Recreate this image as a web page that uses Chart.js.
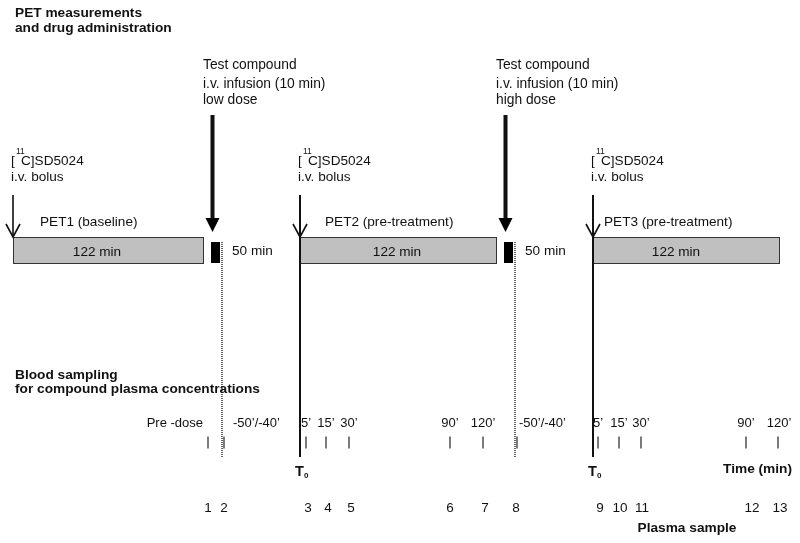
<!DOCTYPE html>
<html>
<head>
<meta charset="utf-8">
<script src="https://cdn.jsdelivr.net/npm/chart.js@4.4.0/dist/chart.umd.min.js"></script>
<style>
    html, body { margin: 0; padding: 0; background: #fff; }
    #wrap { width: 800px; height: 543px; }
</style>
</head>
<body>
<div id="wrap"><canvas id="esquema" width="800" height="543"></canvas></div>
<script>
// ─────────────────────────────────────────────────────────────────────────────
// DATOS (eje x = eje esquemático del estudio, no a escala)
// ─────────────────────────────────────────────────────────────────────────────
const petLabels     = ['PET1 (baseline)', 'PET2 (pre-treatment)', 'PET3 (pre-treatment)'];
const petStart      = [13, 300, 593];
const petEnd        = [203, 496, 779];
const petDuration   = ['122 min', '122 min', '122 min'];
const petDurationAt = [97, 397, 676];
const petLabelAt    = [40, 325, 604];
const tracerName    = ['C]SD5024', 'C]SD5024', 'C]SD5024'];

const doseLabels    = ['low dose', 'high dose'];
const infusionStart = [211, 504];
const infusionEnd   = [220, 513];
const washoutAt     = [222, 515];
const washoutLabel  = ['50 min', '50 min'];

const sampleNo     = ['1', '2', '3', '4', '5', '6', '7', '8', '9', '10', '11', '12', '13'];
const sampleAt     = [208, 224, 306, 326, 349, 450, 483, 517, 598, 619, 641, 746, 778];
const sampleNoAt   = [208, 224, 308, 328, 351, 450, 485, 516, 600, 620, 642, 752, 780];
const sampleTime   = ['Pre -dose', '-50’/-40’', '5’', '15’', '30’', '90’', '120’',
                      '-50’/-40’', '5’', '15’', '30’', '90’', '120’'];
const sampleTimeAt = [203, 233, 306, 326, 349, 450, 483, 519, 598, 619, 641, 746, 779];
const sampleAlign  = ['right', 'left', 'center', 'center', 'center', 'center', 'center',
                      'left', 'center', 'center', 'center', 'center', 'center'];

// filas del esquema (eje y invertido)
const ROW = {
    head1: 13, head2: 28,
    test1: 65, test2: 84, test3: 100,
    tracer: 161, bolus: 177,
    arrowTop: 195, thickTop: 115, thickTip: 232,
    petLabel: 222, boxTop: 237, boxBot: 263, boxText: 251,
    blackTop: 242,
    blood1: 375, blood2: 389,
    time: 423, tickTop: 437, tickBot: 448, lineBot: 457, dotBot: 458,
    t0: 472, sample: 508, plasma: 528
};

const FONT   = 'Arial, "Liberation Sans", sans-serif';
const INK    = '#111';
const BOLD   = 13.7;
const REG    = 13.6;

// ─────────────────────────────────────────────────────────────────────────────
// DATASETS
// ─────────────────────────────────────────────────────────────────────────────
function segmento(x, y0, y1, extra) {
    return Object.assign({
        type: 'line',
        data: [{ x: x, y: y0 }, { x: x, y: y1 }],
        borderColor: INK,
        borderWidth: 1,
        pointRadius: 0,
        fill: false
    }, extra || {});
}

const datasets = [];

// línea T0 (PET2, PET3) y flecha del bolo PET1
datasets.push(segmento(petStart[0], ROW.arrowTop, ROW.boxTop, { borderWidth: 1.6 }));
datasets.push(segmento(petStart[1], ROW.arrowTop, ROW.lineBot, { borderWidth: 2 }));
datasets.push(segmento(petStart[2], ROW.arrowTop, ROW.lineBot, { borderWidth: 2 }));

// líneas punteadas tras la infusión
washoutAt.forEach(function (x) {
    datasets.push(segmento(x, ROW.blackTop, ROW.dotBot, { borderWidth: 1.4, borderDash: [1, 1], borderColor: '#222' }));
});

// flechas gruesas de infusión (astil)
infusionStart.forEach(function (x) {
    datasets.push(segmento(x + 1.5, ROW.thickTop, ROW.thickTip - 10, { borderWidth: 4 }));
});

// marcas de muestreo
datasets.push({
    type: 'scatter',
    data: sampleAt.map(function (x) { return { x: x, y: (ROW.tickTop + ROW.tickBot) / 2 }; }),
    pointStyle: 'line',
    rotation: 90,
    radius: 6,
    borderWidth: 1.2,
    borderColor: '#222'
});

// ─────────────────────────────────────────────────────────────────────────────
// PLUGIN: cajas, flechas y textos
// ─────────────────────────────────────────────────────────────────────────────
const pluginEsquema = {
    id: 'esquema',
    beforeDatasetsDraw: function (chart) {
        const ctx = chart.ctx, sx = chart.scales.x, sy = chart.scales.y;
        ctx.save();
        // cajas PET
        petStart.forEach(function (x0, i) {
            const px0 = sx.getPixelForValue(x0), px1 = sx.getPixelForValue(petEnd[i]);
            const py0 = sy.getPixelForValue(ROW.boxTop), py1 = sy.getPixelForValue(ROW.boxBot);
            ctx.fillStyle = '#c0c0c0';
            ctx.fillRect(px0, py0, px1 - px0, py1 - py0);
            ctx.strokeStyle = '#333';
            ctx.lineWidth = 1;
            ctx.strokeRect(px0 + 0.5, py0 + 0.5, px1 - px0, py1 - py0);
        });
        // infusión (rectángulo negro)
        infusionStart.forEach(function (x0, i) {
            const px0 = sx.getPixelForValue(x0), px1 = sx.getPixelForValue(infusionEnd[i]);
            const py0 = sy.getPixelForValue(ROW.blackTop), py1 = sy.getPixelForValue(ROW.boxBot);
            ctx.fillStyle = '#000';
            ctx.fillRect(px0, py0, px1 - px0, py1 - py0);
        });
        ctx.restore();
    },
    afterDatasetsDraw: function (chart) {
        const ctx = chart.ctx, sx = chart.scales.x, sy = chart.scales.y;
        const X = function (v) { return sx.getPixelForValue(v); };
        const Y = function (v) { return sy.getPixelForValue(v); };

        function texto(str, x, y, size, bold, align) {
            ctx.font = (bold ? 'bold ' : '') + size + 'px ' + FONT;
            ctx.textAlign = align || 'left';
            ctx.textBaseline = 'middle';
            ctx.fillStyle = INK;
            ctx.fillText(str, X(x), Y(y));
        }

        ctx.save();

        // puntas abiertas (bolo)
        ctx.strokeStyle = INK;
        ctx.lineWidth = 1.6;
        petStart.forEach(function (x) {
            const px = X(x), py = Y(ROW.boxTop);
            ctx.beginPath();
            ctx.moveTo(px - 7, py - 13);
            ctx.lineTo(px, py);
            ctx.lineTo(px + 7, py - 13);
            ctx.stroke();
        });

        // puntas macizas (infusión)
        ctx.fillStyle = '#000';
        infusionStart.forEach(function (x) {
            const px = X(x + 1.5), py = Y(ROW.thickTip);
            ctx.beginPath();
            ctx.moveTo(px - 7, py - 14);
            ctx.lineTo(px + 7, py - 14);
            ctx.lineTo(px, py);
            ctx.closePath();
            ctx.fill();
        });

        // títulos
        texto('PET measurements', 15, ROW.head1, BOLD, true);
        texto('and drug administration', 15, ROW.head2, BOLD, true);
        texto('Blood sampling', 15, ROW.blood1, BOLD, true);
        texto('for compound plasma concentrations', 15, ROW.blood2, BOLD, true);

        // compuesto de prueba
        infusionStart.forEach(function (x, i) {
            const lx = x - 8;
            texto('Test compound', lx, ROW.test1, 13.8);
            texto('i.v. infusion (10 min)', lx, ROW.test2, 13.8);
            texto(doseLabels[i], lx, ROW.test3, 13.8);
            texto(washoutLabel[i], washoutAt[i] + 10, ROW.boxText, REG);
        });

        // trazador y cajas PET
        petStart.forEach(function (x, i) {
            const lx = x - 2;
            texto('[', lx, ROW.tracer, REG);
            texto('11', lx + 5, ROW.tracer - 9, 8.5);
            texto(tracerName[i], lx + 10, ROW.tracer, REG);
            texto('i.v. bolus', lx, ROW.bolus, REG);
            texto(petLabels[i], petLabelAt[i], ROW.petLabel, REG);
            texto(petDuration[i], petDurationAt[i], ROW.boxText + 1, REG, false, 'center');
        });

        // T0
        [petStart[1], petStart[2]].forEach(function (x) {
            texto('T', x - 5, ROW.t0, 14.5, true);
            texto('0', x + 4, ROW.t0 + 4, 8, true);
        });

        // tiempos y números de muestra
        sampleTime.forEach(function (t, i) {
            texto(t, sampleTimeAt[i], ROW.time, 13, false, sampleAlign[i]);
            texto(sampleNo[i], sampleNoAt[i], ROW.sample, 13.5, false, 'center');
        });

        texto('Time (min)', 792, ROW.t0 - 3, BOLD, true, 'right');
        texto('Plasma sample', 687, ROW.plasma, BOLD, true, 'center');

        ctx.restore();
    }
};

// ─────────────────────────────────────────────────────────────────────────────
// GRÁFICO
// ─────────────────────────────────────────────────────────────────────────────
new Chart(document.getElementById('esquema').getContext('2d'), {
    type: 'scatter',
    data: { datasets: datasets },
    options: {
        responsive: false,
        animation: false,
        layout: { padding: 0, autoPadding: false },
        plugins: { legend: { display: false }, tooltip: { enabled: false } },
        scales: {
            x: { type: 'linear', min: 0, max: 800, display: false },
            y: { type: 'linear', min: 0, max: 543, reverse: true, display: false }
        }
    },
    plugins: [pluginEsquema]
});
</script>
</body>
</html>
